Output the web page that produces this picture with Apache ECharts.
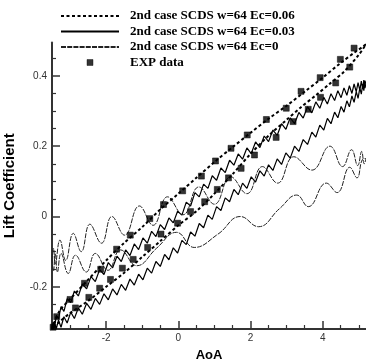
<!DOCTYPE html>
<html>
<head>
<meta charset="utf-8">
<script src="https://cdn.jsdelivr.net/npm/echarts@6/dist/echarts.min.js"></script>
<style>html,body{margin:0;padding:0;background:#fff}#c{width:366px;height:362px}</style>
</head>
<body>
<div id="c"></div>
<script>
const seriesNames = ['2nd case SCDS w=64 Ec=0.06','2nd case SCDS w=64 Ec=0.03','2nd case SCDS w=64 Ec=0','EXP data'];
const xMajorTicks = [-2,0,2,4];
const xMinorTicks = [-3,-2.5,-1.5,-1,-0.5,0.5,1,1.5,2.5,3,3.5,4.5,5];
const yMajorTicks = [-0.2,0,0.2,0.4];
const yMinorTicks = [-0.3,-0.25,-0.15,-0.1,-0.05,0.05,0.1,0.15,0.25,0.3,0.35,0.45];

const ec006Upper = [[-3.5,-0.32],[-3.3,-0.27],[-3.0,-0.235],[-2.5,-0.18],[-2.0,-0.125],[-1.5,-0.075],[-1.0,-0.03],[-0.5,0.02],[0,0.065],[0.5,0.11],[1.0,0.155],[1.5,0.197],[2.0,0.238],[2.5,0.278],[3.0,0.315],[3.5,0.355],[4.0,0.395],[4.5,0.437],[4.9,0.468],[5.1,0.482],[5.2,0.49]];
const ec006Lower = [[5.2,0.49],[5.0,0.46],[4.6,0.413],[4.2,0.378],[3.8,0.344],[3.4,0.311],[3.0,0.275],[2.5,0.23],[2.0,0.178],[1.5,0.12],[1.0,0.065],[0.5,0.015],[0,-0.025],[-0.5,-0.07],[-1.0,-0.115],[-1.5,-0.16],[-2.0,-0.2],[-2.5,-0.24],[-3.0,-0.275],[-3.3,-0.3],[-3.5,-0.32]];

const ec003Upper = [[-3.5,-0.32],[-3.47,-0.301],[-3.43,-0.316],[-3.38,-0.281],[-3.32,-0.292],[-3.25,-0.256],[-3.17,-0.27],[-3.08,-0.234],[-2.98,-0.245],[-2.88,-0.212],[-2.77,-0.226],[-2.66,-0.192],[-2.54,-0.206],[-2.42,-0.171],[-2.3,-0.185],[-2.18,-0.151],[-2.06,-0.165],[-1.94,-0.131],[-1.82,-0.146],[-1.7,-0.113],[-1.58,-0.128],[-1.46,-0.095],[-1.34,-0.111],[-1.22,-0.078],[-1.1,-0.094],[-0.98,-0.061],[-0.86,-0.076],[-0.74,-0.042],[-0.62,-0.057],[-0.5,-0.023],[-0.38,-0.037],[-0.26,-0.004],[-0.14,-0.018],[-0.02,0.015],[0.1,0.004],[0.22,0.041],[0.34,0.03],[0.46,0.068],[0.58,0.056],[0.7,0.092],[0.82,0.08],[0.94,0.116],[1.06,0.103],[1.18,0.138],[1.3,0.125],[1.42,0.16],[1.54,0.146],[1.66,0.178],[1.78,0.163],[1.9,0.195],[2.02,0.179],[2.14,0.212],[2.26,0.196],[2.38,0.229],[2.5,0.213],[2.62,0.246],[2.74,0.231],[2.86,0.264],[2.98,0.248],[3.1,0.281],[3.22,0.264],[3.34,0.296],[3.46,0.28],[3.58,0.312],[3.7,0.295],[3.81,0.326],[3.92,0.308],[4.03,0.339],[4.13,0.32],[4.23,0.349],[4.33,0.33],[4.42,0.358],[4.51,0.338],[4.59,0.366],[4.67,0.345],[4.74,0.372],[4.81,0.35],[4.87,0.377],[4.93,0.355],[4.98,0.381],[5.03,0.359],[5.07,0.385],[5.11,0.362],[5.14,0.388],[5.17,0.365],[5.2,0.378]];
const ec003Lower = [[5.2,0.378],[5.17,0.386],[5.14,0.358],[5.11,0.377],[5.07,0.348],[5.03,0.366],[4.98,0.336],[4.93,0.355],[4.87,0.325],[4.81,0.343],[4.74,0.312],[4.67,0.329],[4.59,0.297],[4.51,0.313],[4.42,0.281],[4.33,0.297],[4.23,0.264],[4.13,0.279],[4.03,0.246],[3.92,0.26],[3.81,0.226],[3.7,0.24],[3.58,0.205],[3.46,0.219],[3.34,0.185],[3.22,0.2],[3.1,0.166],[2.98,0.181],[2.86,0.148],[2.74,0.164],[2.62,0.131],[2.5,0.147],[2.38,0.115],[2.26,0.13],[2.14,0.098],[2.02,0.113],[1.9,0.08],[1.78,0.095],[1.66,0.062],[1.54,0.077],[1.42,0.042],[1.3,0.053],[1.18,0.017],[1.06,0.028],[0.94,-0.008],[0.82,0.004],[0.7,-0.032],[0.58,-0.02],[0.46,-0.056],[0.34,-0.044],[0.22,-0.08],[0.1,-0.068],[-0.02,-0.104],[-0.14,-0.089],[-0.26,-0.123],[-0.38,-0.108],[-0.5,-0.142],[-0.62,-0.128],[-0.74,-0.161],[-0.86,-0.147],[-0.98,-0.18],[-1.1,-0.164],[-1.22,-0.195],[-1.34,-0.178],[-1.46,-0.21],[-1.58,-0.193],[-1.7,-0.223],[-1.82,-0.206],[-1.94,-0.237],[-2.06,-0.22],[-2.18,-0.25],[-2.3,-0.233],[-2.42,-0.264],[-2.54,-0.247],[-2.66,-0.278],[-2.77,-0.26],[-2.88,-0.29],[-2.98,-0.272],[-3.08,-0.303],[-3.17,-0.285],[-3.25,-0.315],[-3.32,-0.295],[-3.38,-0.319],[-3.43,-0.303],[-3.47,-0.319],[-3.5,-0.32]];

const ec0Upper = [[-3.5,-0.12],[-3.46,-0.09],[-3.41,-0.135],[-3.28,-0.067],[-3.12,-0.125],[-2.91,-0.048],[-2.69,-0.1],[-2.45,-0.022],[-2.13,-0.076],[-1.84,0.0],[-1.49,-0.053],[-1.08,0.03],[-0.7,-0.025],[-0.3,0.056],[0.13,0.005],[0.57,0.084],[1.0,0.035],[1.45,0.113],[1.9,0.065],[2.33,0.142],[2.75,0.095],[3.2,0.17],[3.7,0.132],[4.2,0.2],[4.55,0.142],[4.8,0.19],[4.97,0.145],[5.08,0.185],[5.15,0.15],[5.2,0.165]];
const ec0Lower = [[-3.5,-0.12],[-3.46,-0.155],[-3.41,-0.105],[-3.35,-0.158],[-3.25,-0.105],[-3.05,-0.162],[-2.85,-0.11],[-2.55,-0.158],[-2.3,-0.105],[-1.95,-0.153],[-1.6,-0.095],[-1.15,-0.14],[-0.6,-0.09],[-0.05,-0.045],[0.44,-0.088],[1.1,-0.05],[1.72,0.0],[2.22,-0.029],[2.8,0.022],[3.28,0.061],[3.6,0.028],[4.1,0.095],[4.4,0.068],[4.75,0.14],[4.95,0.11],[5.1,0.162],[5.2,0.165]];

const expUpper = [[-3.47,-0.315],[-3.37,-0.285],[-3.0,-0.236],[-2.6,-0.19],[-2.15,-0.15],[-1.71,-0.093],[-1.33,-0.053],[-0.79,-0.006],[-0.41,0.034],[0.12,0.073],[0.64,0.115],[1.03,0.158],[1.46,0.194],[1.91,0.232],[2.44,0.276],[2.99,0.308],[3.4,0.356],[3.93,0.395],[4.49,0.447],[4.87,0.479]];
const expLower = [[-2.85,-0.26],[-2.48,-0.23],[-2.18,-0.204],[-1.88,-0.179],[-1.55,-0.147],[-1.25,-0.122],[-0.85,-0.088],[-0.48,-0.05],[-0.02,-0.019],[0.34,0.014],[0.73,0.042],[1.08,0.077],[1.39,0.11],[1.74,0.137],[2.11,0.175],[2.71,0.225],[3.18,0.27],[3.6,0.305],[3.94,0.339],[4.36,0.38],[4.75,0.425]];

const X_MIN = -3.5, X_MAX = 5.2, Y_MIN = -0.32, Y_MAX = 0.495;
const axisColor = '#333';

const chart = echarts.init(document.getElementById('c'), null, {renderer: 'canvas'});
const labelFont = {fontFamily: 'Liberation Sans, Arial, sans-serif', fontSize: 10, color: '#333'};
const nameFont = {fontFamily: 'Liberation Sans, Arial, sans-serif', fontSize: 13, fontWeight: 'bold', color: '#000'};
const yNameFont = {fontFamily: 'Liberation Sans, Arial, sans-serif', fontSize: 15, fontWeight: 'bold', color: '#000'};
const clearStyle = {color: 'rgba(0,0,0,0)', borderColor: 'rgba(0,0,0,0)', borderWidth: 0};

chart.setOption({
  animation: false,
  grid: {left: 52, right: 0, top: 42.5, bottom: 33, containLabel: false, outerBoundsMode: 'none'},
  legend: {
    orient: 'vertical', left: 60, top: 9, padding: 0,
    itemWidth: 58, itemHeight: 10, itemGap: 1.5,
    itemStyle: clearStyle,
    textStyle: {fontFamily: 'Liberation Serif, Times New Roman, serif', fontWeight: 'bold', fontSize: 13, color: '#000', lineHeight: 14, padding: [0,0,0,6]},
    data: [seriesNames[0], seriesNames[1], seriesNames[2],
      {name: seriesNames[3], icon: 'path://M0,0M58,10M26,2h6v6h-6z', itemStyle: {color: '#000', borderColor: '#000', borderWidth: 0.5}}]
  },
  xAxis: [
    {type: 'value', min: X_MIN, max: X_MAX, position: 'bottom',
     name: 'AoA', nameLocation: 'middle', nameGap: 20, nameTextStyle: nameFont,
     axisLine: {show: true, onZero: false, lineStyle: {color: axisColor, width: 2}},
     axisTick: {show: true, inside: true, length: 8, customValues: xMajorTicks, lineStyle: {color: axisColor, width: 1.5}},
     axisLabel: Object.assign({show: true, margin: 4, customValues: xMajorTicks}, labelFont),
     splitLine: {show: false}},
    {type: 'value', min: X_MIN, max: X_MAX, position: 'bottom', offset: 0,
     axisLine: {show: false, onZero: false},
     axisTick: {show: true, inside: true, length: 4, customValues: xMinorTicks, lineStyle: {color: axisColor, width: 1.2}},
     axisLabel: {show: false}, splitLine: {show: false}}
  ],
  yAxis: [
    {type: 'value', min: Y_MIN, max: Y_MAX, position: 'left',
     name: 'Lift Coefficient', nameLocation: 'middle', nameGap: 35, nameRotate: 90, nameTextStyle: yNameFont,
     axisLine: {show: true, onZero: false, lineStyle: {color: axisColor, width: 2}},
     axisTick: {show: true, inside: true, length: 8, customValues: yMajorTicks, lineStyle: {color: axisColor, width: 1.5}},
     axisLabel: Object.assign({show: true, margin: 5, customValues: yMajorTicks}, labelFont),
     splitLine: {show: false}},
    {type: 'value', min: Y_MIN, max: Y_MAX, position: 'left', offset: 0,
     axisLine: {show: false, onZero: false},
     axisTick: {show: true, inside: true, length: 4, customValues: yMinorTicks, lineStyle: {color: axisColor, width: 1.2}},
     axisLabel: {show: false}, splitLine: {show: false}}
  ],
  series: [
    {name: seriesNames[0], type: 'line', symbol: 'none', smooth: 0.3, z: 3,
     data: ec006Upper.concat(ec006Lower),
     lineStyle: {color: '#000', width: 2, type: [3, 2.5]}, itemStyle: {color: '#000'}},
    {name: seriesNames[1], type: 'line', symbol: 'none', z: 2,
     data: ec003Upper.concat(ec003Lower),
     lineStyle: {color: '#000', width: 1.2}, itemStyle: {color: '#000'}},
    {name: seriesNames[2], type: 'line', symbol: 'none', smooth: 0.45, z: 2,
     data: ec0Upper.concat(ec0Lower.slice().reverse()),
     lineStyle: {color: '#222', width: 1, type: [5, 1.2]}, itemStyle: {color: '#222'}},
    {name: seriesNames[3], type: 'scatter', symbol: 'rect', symbolSize: 6, z: 4,
     data: expUpper.concat(expLower),
     itemStyle: {color: '#000', borderColor: '#000', borderWidth: 0.6}}
  ]
});
</script>
</body>
</html>
